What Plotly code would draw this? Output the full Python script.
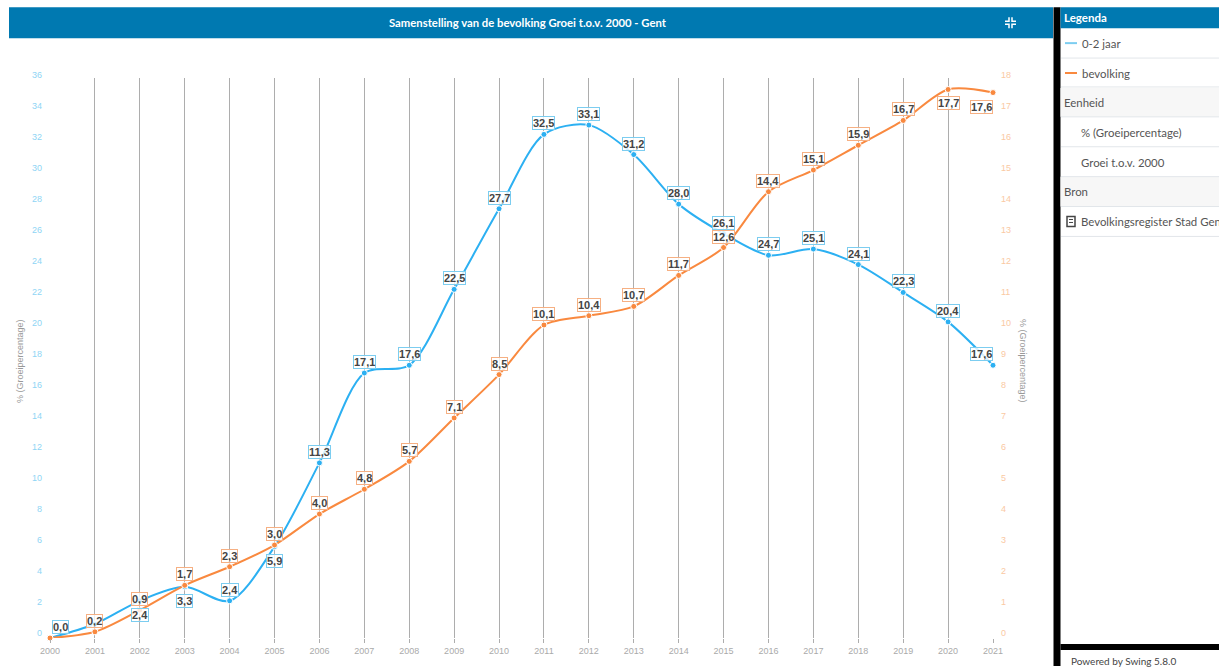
import plotly.graph_objects as go

years = list(range(2000, 2022))
blauw = [0.0, 0.9, 2.4, 3.3, 2.4, 5.9, 11.3, 17.1, 17.6, 22.5, 27.7, 32.5, 33.1, 31.2, 28.0, 26.1, 24.7, 25.1, 24.1, 22.3, 20.4, 17.6]
oranje = [0.0, 0.2, 0.9, 1.7, 2.3, 3.0, 4.0, 4.8, 5.7, 7.1, 8.5, 10.1, 10.4, 10.7, 11.7, 12.6, 14.4, 15.1, 15.9, 16.7, 17.7, 17.6]
blauw_namen = "0-2 jaar"
oranje_namen = "bevolking"
left_ticks = list(range(0, 37, 2))
right_ticks = list(range(0, 19))

W, H = 1219, 668
L, R, T, B = 50, 993, 78, 640
BLUE, ORANGE = "#2cb0f2", "#f9893f"
BLUE_BOX, ORANGE_BOX = "#7ccdf0", "#f6b083"
HEAD = "#0079b1"
PANEL_FONT = "Lato"

def px(x): return (x - L) / (R - L)
def py(y): return (B - y) / (B - T)

def rect(x0, y0, x1, y1, color):
    return dict(type="rect", xref="paper", yref="paper", x0=px(x0), x1=px(x1), y0=py(y0), y1=py(y1),
                fillcolor=color, line_width=0, layer="above")

def hline(x0, x1, y, color, w=1):
    return dict(type="line", xref="paper", yref="paper", x0=px(x0), x1=px(x1), y0=py(y), y1=py(y),
                line=dict(color=color, width=w), layer="above")

def text(x, y, s, size=11.4, color="#555", anchor="left", font=PANEL_FONT, angle=0):
    return dict(xref="paper", yref="paper", x=px(x), y=py(y), text=s, showarrow=False, xanchor=anchor,
                yanchor="middle", textangle=angle, font=dict(size=size, color=color, family=font))

fig = go.Figure()
fig.add_trace(go.Scatter(x=years, y=blauw, name=blauw_namen, mode="lines+markers", yaxis="y", cliponaxis=False,
                         line=dict(color=BLUE, width=2, shape="spline", smoothing=0.85),
                         marker=dict(color=BLUE, size=6, line=dict(color="white", width=1))))
fig.add_trace(go.Scatter(x=years, y=oranje, name=oranje_namen, mode="lines+markers", yaxis="y2", cliponaxis=False,
                         line=dict(color=ORANGE, width=2, shape="spline", smoothing=0.85),
                         marker=dict(color=ORANGE, size=6, line=dict(color="white", width=1))))

# label placement: default above the point
blue_below = {2002, 2003, 2005}
orange_below = {2020, 2021}
blue_skip = {2001}
orange_skip = {2000}
x_shift = {2000: 10, 2021: -12}

anns = []
def label(year, val, axis, box, below):
    anns.append(dict(x=year, y=val, xref="x", yref=axis, text=f"{val:.1f}".replace(".", ","), showarrow=False,
                     xanchor="center", yanchor="middle", yshift=-14 if below else 11, xshift=x_shift.get(year, 0),
                     bgcolor="rgba(255,255,255,0.8)", bordercolor=box, borderwidth=1, borderpad=0,
                     font=dict(size=11, color="#444", family="Liberation Sans", weight="bold")))
for yr, v in zip(years, blauw):
    if yr not in blue_skip:
        label(yr, v, "y", BLUE_BOX, yr in blue_below)
for yr, v in zip(years, oranje):
    if yr not in orange_skip:
        label(yr, v, "y2", ORANGE_BOX, yr in orange_below)

# chrome
shapes = [
    rect(9, 7, 1053, 38, HEAD),
    rect(1053.5, 7, 1060.5, H, "#000000"),
    rect(1060.5, 7, W, 28, HEAD),
    rect(1060.5, 88, W, 117, "#f7f7f7"),
    rect(1060.5, 177, W, 207, "#f7f7f7"),
    rect(1060.5, 646, W, 652, "#000000"),
]
for y in [58, 87, 117, 147, 177, 207, 237]:
    shapes.append(hline(1061, W, y, "#e2e6ea"))
shapes += [hline(1065, 1077, 43, BLUE_BOX, 2), hline(1065, 1077, 73, ORANGE, 2)]
for (x0, y0, x1, y1, x2, y2) in [(1005, 21, 1009, 21, 1009, 17), (1012, 17, 1012, 21, 1016, 21),
                                 (1005, 24, 1009, 24, 1009, 28), (1012, 28, 1012, 24, 1016, 24)]:
    shapes.append(dict(type="path", xref="paper", yref="paper",
                       path=f"M{px(x0)},{py(y0)} L{px(x1)},{py(y1)} L{px(x2)},{py(y2)}",
                       line=dict(color="white", width=1.5), layer="above"))
# book icon
shapes.append(dict(type="rect", xref="paper", yref="paper", x0=px(1067), x1=px(1075), y0=py(217), y1=py(227),
                   line=dict(color="#444", width=1.5), fillcolor="white", layer="above"))
shapes.append(hline(1069, 1073, 220, "#444", 1))
shapes.append(hline(1069, 1073, 223, "#444", 1))

anns += [
    text(528, 22, "<b>Samenstelling van de bevolking Groei t.o.v. 2000 - Gent</b>", 11.3, "white", "center"),
    text(1062, 17, "<b>Legenda</b>", 11.5, "white"),
    text(1080, 43, "0-2 jaar"),
    text(1080, 73, "bevolking"),
    text(1062, 103, "Eenheid"),
    text(1079, 133, "% (Groeipercentage)"),
    text(1079, 163, "Groei t.o.v. 2000"),
    text(1062, 192, "Bron"),
    text(1079, 222, "Bevolkingsregister Stad Gent"),
    text(1069, 663, "Powered by Swing 5.8.0", 10, "#444"),
    text(20, 362, "% (Groeipercentage)", 9, "#999", "center", "Liberation Sans", -90),
    text(1023, 362, "% (Groeipercentage)", 9, "#999", "center", "Liberation Sans", 90),
]

fig.update_layout(
    width=W, height=H, autosize=False, showlegend=False, plot_bgcolor="white", paper_bgcolor="white",
    margin=dict(l=L, r=W - R, t=T, b=H - B),
    shapes=shapes, annotations=anns,
    xaxis=dict(range=[2000, 2021], tickmode="array", tickvals=years, ticktext=[str(y) for y in years],
               showgrid=True, gridcolor="#adadad", gridwidth=1.4, zeroline=False, showline=False,
               ticks="outside", ticklen=4, tickcolor="#adadad", tickwidth=1.4,
               tickfont=dict(size=9, color="#aaa", family="Liberation Sans")),
    yaxis=dict(range=[0, 36.14], tickmode="array", tickvals=left_ticks, showgrid=False, zeroline=False, ticks="",
               ticklabelshift=-5, ticklabelstandoff=7, tickfont=dict(size=9, color="#8fd5f5", family="Liberation Sans")),
    yaxis2=dict(range=[0, 18.07], overlaying="y", side="right", tickmode="array", tickvals=right_ticks, showgrid=False,
                zeroline=False, ticks="", ticklabelshift=-5, ticklabelstandoff=7,
                tickfont=dict(size=9, color="#fac9a3", family="Liberation Sans")),
)
fig.write_html("out.html", config={"displayModeBar": False},
               post_script="document.body.style.margin='0';document.body.style.overflow='hidden';")
